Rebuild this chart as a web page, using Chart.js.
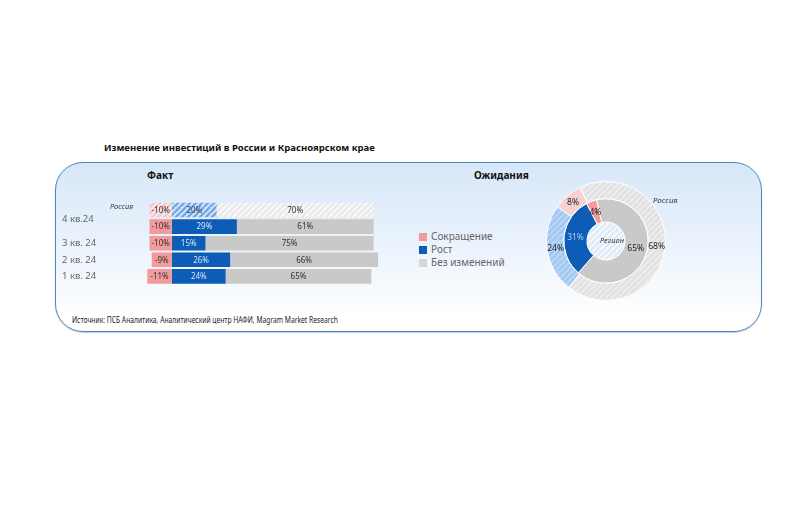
<!DOCTYPE html>
<html><head><meta charset="utf-8">
<script src="https://cdn.jsdelivr.net/npm/chart.js@4.4.1/dist/chart.umd.min.js"></script>
<style>
body{margin:0;width:810px;height:506px;background:#fff;position:relative;overflow:hidden;font-family:"Noto Sans","Open Sans",sans-serif;}
.abs{position:absolute;white-space:nowrap;}
#title{left:104px;top:141px;font-size:9.5px;font-weight:bold;color:#111;}
#panel{left:55px;top:162px;width:705px;height:168px;border:1.3px solid #4d84c4;border-radius:28px;background:linear-gradient(to bottom,#d7e7f8 0%,#e9f2fc 45%,#ffffff 92%);box-shadow:0 1px 1px rgba(60,100,150,0.35);}
.hdr{font-size:10px;font-weight:bold;color:#111;}
#fact{left:147px;top:168px;}
#exp{left:474px;top:168px;}
#src{left:72px;top:314px;font-size:8px;color:#222;transform:scaleX(0.84);transform-origin:left top;}
#barWrap{left:60px;top:195px;width:340px;height:95px;}
#pieWrap{left:546px;top:181px;width:120px;height:120px;}
#legend{left:419px;top:230px;font-size:10px;color:#666;line-height:13px;}
#legend .it{display:flex;align-items:center;height:13px;}
#legend .sq{width:8px;height:8px;margin-right:4px;}
#rus2{left:653px;top:194px;font-size:8px;font-style:italic;color:#333;}
</style>
</head><body>
<div id="title" class="abs">Изменение инвестиций в России и Красноярском крае</div>
<div id="panel" class="abs"></div>
<div id="fact" class="abs hdr">Факт</div>
<div id="exp" class="abs hdr">Ожидания</div>
<div id="src" class="abs">Источник: ПСБ Аналитика, Аналитический центр НАФИ, Magram Market Research</div>
<div id="barWrap" class="abs"><canvas id="bar" width="340" height="95"></canvas></div>
<div id="pieWrap" class="abs"><canvas id="pie" width="120" height="120"></canvas></div>
<div id="legend" class="abs"></div>
<div id="rus2" class="abs">Россия</div>
<script>
// ---------- DATA ----------
const quarters = ["4 кв.24", "4 кв.24", "3 кв. 24", "2 кв. 24", "1 кв. 24"];
const geography = ["Россия", "", "", "", ""];
const decline = [-10, -10, -10, -9, -11];
const growth = [20, 29, 15, 26, 24];
const noChange = [70, 61, 75, 66, 65];

const seriesNames = ["Сокращение", "Рост", "Без изменений"];
const expRegion = [4, 31, 65];   // Сокращение, Рост, Без изменений
const expRussia = [8, 24, 68];

// ---------- STYLE ----------
function stripes(bg, fg, size, lw) {
  const c = document.createElement('canvas');
  c.width = size; c.height = size;
  const x = c.getContext('2d');
  x.fillStyle = bg; x.fillRect(0, 0, size, size);
  x.strokeStyle = fg; x.lineWidth = lw;
  x.beginPath();
  x.moveTo(0, size); x.lineTo(size, 0);
  x.moveTo(-size, size); x.lineTo(0, 0);
  x.moveTo(0, 2 * size); x.lineTo(2 * size, 0);
  x.stroke();
  return x.createPattern(c, 'repeat');
}
const C = {
  pink: '#f39a9c', blue: '#0d5db6', gray: '#c9c9c9',
  pinkH: stripes('#fbe3e4', '#f3c3c6', 6, 1.6),
  blueH: stripes('#cfe2f8', '#6ea5e6', 6, 2.2),
  grayH: stripes('#f7f7f7', '#e6e6e6', 6, 1.8),
  pinkL: '#f7d0d3',
  blueL: stripes('#b8d6f6', '#9fc6f0', 6, 2),
  grayL: stripes('#ececec', '#e0e0e0', 6, 2),
  hole: stripes('#f4f8fd', '#dce9f7', 6, 2)
};

// legend
const legEl = document.getElementById('legend');
[C.pink, C.blue, '#d6d6d6'].forEach((col, i) => {
  legEl.insertAdjacentHTML('beforeend', `<div class="it"><span class="sq" style="background:${col}"></span>${seriesNames[i]}</div>`);
});

const FONT = '"Noto Sans","Open Sans",sans-serif';

// ---------- BAR ----------
const barLabels = {
  id: 'barLabels',
  afterDatasetsDraw(chart) {
    const ctx = chart.ctx;
    ctx.save();
    ctx.font = '8px ' + FONT;
    ctx.textAlign = 'center'; ctx.textBaseline = 'middle';
    chart.data.datasets.forEach((ds, di) => {
      const meta = chart.getDatasetMeta(di);
      meta.data.forEach((el, i) => {
        const v = ds.data[i];
        const cx = (el.x + el.base) / 2;
        if (di === 1) ctx.fillStyle = i === 0 ? '#345' : '#d6e6fb';
        else ctx.fillStyle = '#333';
        ctx.fillText(v + '%', cx, el.y + 0.5);
      });
    });
    // category labels
    const ys = chart.scales.y;
    ctx.textAlign = 'left';
    ctx.font = '9.5px ' + FONT;
    ctx.fillStyle = '#666';
    let i = 0;
    while (i < quarters.length) {
      let j = i;
      while (j + 1 < quarters.length && quarters[j + 1] === quarters[i]) j++;
      const y = (ys.getPixelForValue(i) + ys.getPixelForValue(j)) / 2 + (j > i ? 1 : 0);
      ctx.fillText(quarters[i], 2, y);
      i = j + 1;
    }
    ctx.font = 'italic 7.5px ' + FONT;
    ctx.fillStyle = '#333';
    geography.forEach((g, k) => {
      if (g) ctx.fillText(g, 50, ys.getPixelForValue(k) - 3);
    });
    ctx.restore();
  }
};

new Chart(document.getElementById('bar'), {
  type: 'bar',
  data: {
    labels: quarters.map((q, i) => i),
    datasets: [
      { label: seriesNames[0], data: decline, backgroundColor: c => c.dataIndex === 0 ? C.pinkH : C.pink },
      { label: seriesNames[1], data: growth, backgroundColor: c => c.dataIndex === 0 ? C.blueH : C.blue },
      { label: seriesNames[2], data: noChange, backgroundColor: c => c.dataIndex === 0 ? C.grayH : C.gray }
    ]
  },
  options: {
    indexAxis: 'y',
    responsive: false,
    animation: false,
    layout: { padding: { left: 85, right: 4, top: 6.7, bottom: 5.3 } },
    datasets: { bar: { barPercentage: 0.88, categoryPercentage: 1, borderWidth: 0 } },
    scales: {
      x: { stacked: true, min: -12, max: 100, display: false },
      y: { stacked: true, display: false }
    },
    plugins: { legend: { display: false }, tooltip: { enabled: false } }
  },
  plugins: [barLabels]
});

// ---------- DOUGHNUT ----------
// drawing order clockwise: Без изменений, Рост, Сокращение
const order = [2, 1, 0];
const pieLabels = {
  id: 'pieLabels',
  beforeDatasetsDraw(chart) {
    const m = chart.getDatasetMeta(1).data[0];
    const ctx = chart.ctx;
    ctx.save();
    ctx.beginPath();
    ctx.arc(m.x, m.y, m.innerRadius, 0, Math.PI * 2);
    ctx.fillStyle = C.hole; ctx.fill();
    ctx.restore();
  },
  afterDatasetsDraw(chart) {
    const ctx = chart.ctx;
    ctx.save();
    ctx.font = '8.5px ' + FONT;
    ctx.textAlign = 'center'; ctx.textBaseline = 'middle';
    chart.data.datasets.forEach((ds, di) => {
      chart.getDatasetMeta(di).data.forEach((el, i) => {
        const p = el.getCenterPoint();
        ctx.fillStyle = (di === 1 && order[i] === 1) ? '#a9cdf3' : '#222';
        ctx.fillText(ds.data[i] + '%', p.x, p.y);
      });
    });
    const m = chart.getDatasetMeta(1).data[0];
    ctx.font = 'italic 7.5px ' + FONT;
    ctx.fillStyle = '#333';
    ctx.fillText('Регион', m.x + 6, m.y);
    ctx.restore();
  }
};

new Chart(document.getElementById('pie'), {
  type: 'doughnut',
  data: {
    labels: order.map(k => seriesNames[k]),
    datasets: [
      { label: 'Россия', data: order.map(k => expRussia[k]), backgroundColor: [C.grayL, C.blueL, C.pinkL],
        rotation: -26, weight: 17, borderColor: '#fff', borderWidth: 1 },
      { label: 'Регион', data: order.map(k => expRegion[k]), backgroundColor: [C.gray, C.blue, C.pink],
        rotation: -13, weight: 23, borderColor: '#fff', borderWidth: 1 }
    ]
  },
  options: {
    responsive: false,
    animation: false,
    cutout: '32%',
    layout: { padding: 0 },
    plugins: { legend: { display: false }, tooltip: { enabled: false } }
  },
  plugins: [pieLabels]
});
</script>
</body></html>
